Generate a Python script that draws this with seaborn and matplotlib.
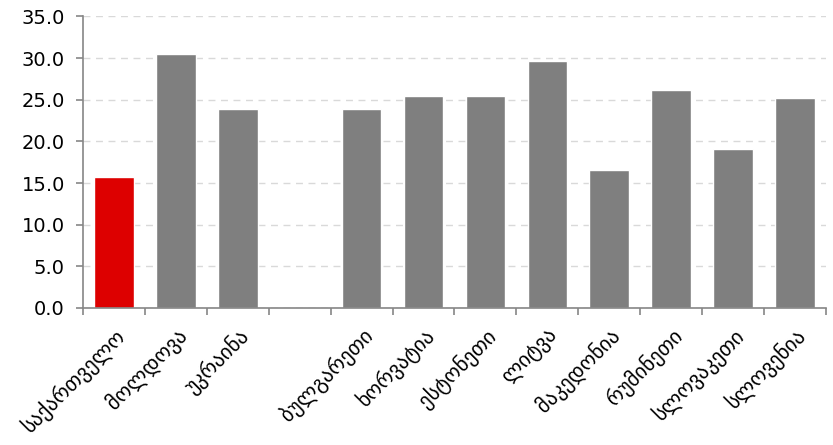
import matplotlib
matplotlib.use("Agg")
import matplotlib.pyplot as plt
import seaborn as sns
import numpy as np
import pandas as pd
from matplotlib.ticker import FixedLocator

countries = ["საქართველო", "მოლდოვა", "უკრაინა", "", "ბულგარეთი", "ხორვატია",
             "ესტონეთი", "ლიტვა", "მაკედონია", "რუმინეთი", "სლოვაკეთი", "სლოვენია"]
values = [15.7, 30.5, 23.9, np.nan, 23.9, 25.4, 25.4, 29.6, 16.6, 26.2, 19.1, 25.2]
highlight = ["georgia"] + ["other"] * 11

sns.set_theme(style="white")
plt.rcParams['font.family'] = ['DejaVu Sans']

df = pd.DataFrame({"pos": [str(i) for i in range(len(countries))],
                   "value": values, "group": highlight})

fig = plt.figure(figsize=(8.33, 4.45), dpi=100)
ax = fig.add_axes([0.0996, 0.308, 0.892, 0.655])

sns.barplot(data=df, x="pos", y="value", hue="group",
            palette={"georgia": "#DD0000", "other": "#7F7F7F"},
            dodge=False, width=0.64, legend=False, ax=ax, saturation=1)

ax.set_xlim(-0.5, len(countries) - 0.5)
ax.set_ylim(0, 35)
ax.set_yticks(np.arange(0, 36, 5))
ax.set_yticklabels([f"{v:.1f}" for v in np.arange(0, 36, 5)], fontsize=14,
                   color="black")
ax.yaxis.grid(True, linestyle=(0, (5, 4)), color="#D9D9D9", linewidth=1)
ax.set_axisbelow(True)

ax.set_xticks(range(len(countries)))
ax.set_xticklabels(countries, rotation=45, ha="right", rotation_mode="anchor",
                   fontsize=15, color="black")
ax.xaxis.set_minor_locator(FixedLocator(np.arange(-0.5, len(countries), 1)))
ax.tick_params(axis="x", which="major", length=0, pad=12)
ax.tick_params(axis="x", which="minor", length=5, color="#868686", width=1.2,
               bottom=True, direction="out")
ax.tick_params(axis="y", length=5, color="#868686", width=1.2, left=True,
               direction="out", pad=8)

for s in ["top", "right"]:
    ax.spines[s].set_visible(False)
for s in ["left", "bottom"]:
    ax.spines[s].set_color("#868686")
    ax.spines[s].set_linewidth(1.2)

ax.set_xlabel("")
ax.set_ylabel("")

fig.savefig("out.png", dpi=100)
